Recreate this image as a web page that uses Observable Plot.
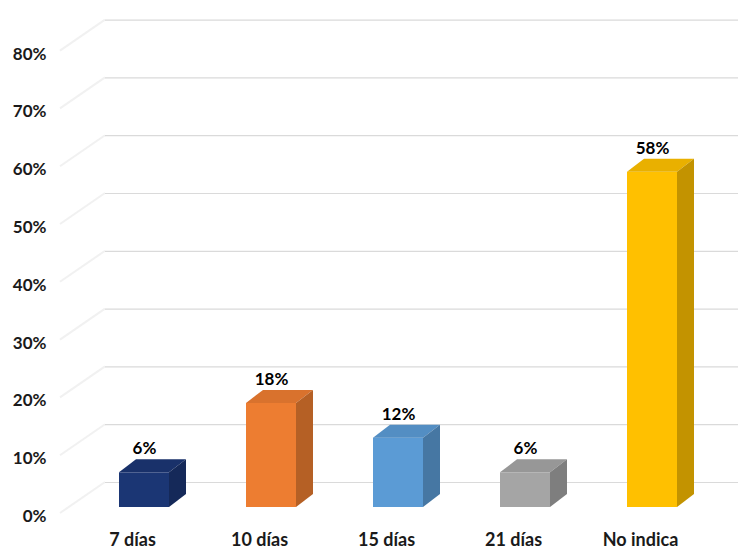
<!DOCTYPE html>
<html>
<head>
<meta charset="utf-8">
<script src="https://cdn.jsdelivr.net/npm/d3@7"></script>
<script src="https://cdn.jsdelivr.net/npm/@observablehq/plot@0.6"></script>
<style>
  html, body { margin: 0; padding: 0; background: #fff; }
</style>
</head>
<body>
<div id="chart"></div>
<script>
const categories = ["7 días", "10 días", "15 días", "21 días", "No indica"];
const values = [6, 18, 12, 6, 58];
const yTicks = [0, 10, 20, 30, 40, 50, 60, 70, 80];
const palette = ["#1b3674", "#ed7d31", "#5b9bd5", "#a5a5a5", "#ffc000"];

const data = categories.map((cat, i) => ({cat, value: values[i]}));

const DX = 17, DY = 13;       // bar depth
const WDX = 27, WDY = 25;     // back wall offset

function backWall(index, scales, vals, dims) {
  const y = scales.y;
  const g = d3.create("svg:g");
  for (const t of yTicks) {
    const yf = y(t);
    g.append("line")
      .attr("x1", dims.marginLeft - 18).attr("y1", yf + 6)
      .attr("x2", dims.marginLeft + WDX).attr("y2", yf - WDY)
      .attr("stroke", "#f1f1f1").attr("stroke-width", 2);
  }
  return g.node();
}

function bars3d(index, scales, vals, dims) {
  const x = scales.x, y = scales.y;
  const bw = x.bandwidth ? x.bandwidth() : 50;
  const g = d3.create("svg:g");
  data.forEach((d, i) => {
    const x0 = x(d.cat), x1 = x0 + bw, yt = y(d.value), yb = y(0);
    const c = d3.color(palette[i]);
    g.append("polygon")
      .attr("points", [[x0, yt], [x0 + DX, yt - DY], [x1 + DX, yt - DY], [x1, yt]].map(p => p.join(",")).join(" "))
      .attr("fill", c.darker(0.25).formatHex());
    g.append("polygon")
      .attr("points", [[x1, yt], [x1 + DX, yt - DY], [x1 + DX, yb - DY], [x1, yb]].map(p => p.join(",")).join(" "))
      .attr("fill", c.darker(0.75).formatHex());
  });
  return g.node();
}

const chart = Plot.plot({
  width: 738,
  height: 551,
  marginLeft: 78,
  marginRight: 20,
  marginTop: 0,
  marginBottom: 44,
  style: {fontFamily: "Lato, 'Open Sans', sans-serif", fontWeight: "bold", background: "#fff", color: "#1a1a1a"},
  x: {type: "band", domain: categories, paddingInner: 0.609, paddingOuter: 0.305, label: null},
  y: {domain: [0, 80], range: [507, 44.6], label: null},
  color: {domain: categories, range: palette},
  marks: [
    backWall,
    Plot.ruleY(yTicks, {dy: -WDY, insetLeft: WDX, insetRight: -20, stroke: "#dadada", strokeWidth: 1.2}),
    Plot.axisY(yTicks, {tickSize: 0, tickPadding: 32, dy: 9, tickFormat: d => d + "%", fontSize: 17, fontWeight: "bold", fill: "#1a1a1a", label: null}),
    Plot.axisX({tickSize: 0, tickPadding: 26, dx: -12, fontSize: 18, fontWeight: "bold", fill: "#1a1a1a", label: null}),
    Plot.barY(data, {x: "cat", y: "value", fill: "cat"}),
    bars3d,
    Plot.text(data, {x: "cat", y: "value", text: d => d.value + "%", dy: -24, fontSize: 17, fontWeight: "bold", fill: "#000"})
  ]
});

document.getElementById("chart").appendChild(chart);
</script>
</body>
</html>
